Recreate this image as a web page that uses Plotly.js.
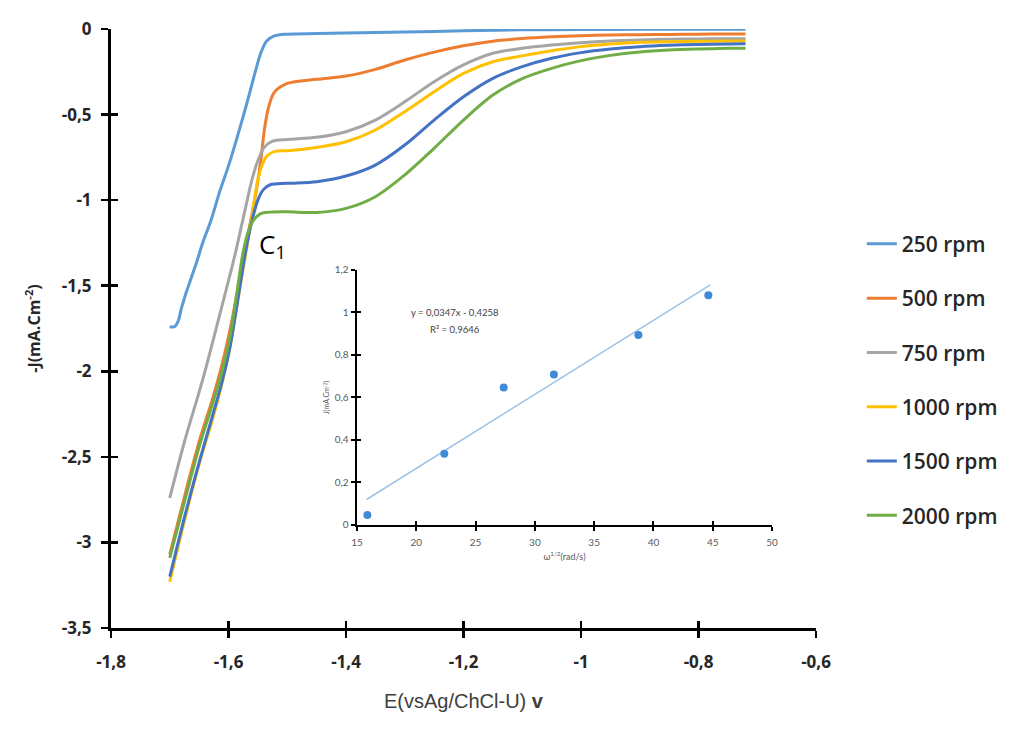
<!DOCTYPE html>
<html>
<head>
<meta charset="utf-8">
<script src="https://cdn.plot.ly/plotly-3.0.1.min.js"></script>
<style>html,body{margin:0;padding:0;background:#fff;}#chart{width:1033px;height:729px;}</style>
</head>
<body>
<div id="chart"></div>
<script>
// ---- main voltammograms: E (V) vs -J (mA.cm-2) ----
const seriesNames = ["250 rpm", "500 rpm", "750 rpm", "1000 rpm", "1500 rpm", "2000 rpm"];
const seriesColors = ["#5B9BD5", "#ED7D31", "#A5A5A5", "#FFC000", "#4472C4", "#70AD47"];

const e250 = [-1.700,-1.692,-1.686,-1.680,-1.672,-1.665,-1.655,-1.643,-1.630,-1.615,-1.600,-1.585,-1.570,-1.556,-1.545,-1.535,-1.522,-1.500,-1.450,-1.400,-1.350,-1.300,-1.250,-1.200,-1.100,-1.000,-0.900,-0.800,-0.720];
const j250 = [-1.74,-1.74,-1.71,-1.63,-1.54,-1.47,-1.37,-1.24,-1.12,-0.95,-0.80,-0.63,-0.45,-0.27,-0.14,-0.07,-0.04,-0.030,-0.027,-0.024,-0.021,-0.018,-0.014,-0.010,-0.005,-0.003,-0.002,-0.001,-0.001];

const e500 = [-1.700,-1.674,-1.649,-1.628,-1.611,-1.594,-1.577,-1.564,-1.554,-1.545,-1.539,-1.532,-1.522,-1.500,-1.450,-1.400,-1.350,-1.300,-1.250,-1.200,-1.150,-1.100,-1.050,-1.000,-0.950,-0.900,-0.850,-0.800,-0.750,-0.720];
const j500 = [-3.07,-2.72,-2.40,-2.17,-1.96,-1.70,-1.38,-1.15,-0.97,-0.77,-0.59,-0.46,-0.37,-0.318,-0.294,-0.275,-0.236,-0.181,-0.135,-0.098,-0.071,-0.056,-0.046,-0.039,-0.035,-0.033,-0.032,-0.030,-0.029,-0.029];

const e750 = [-1.700,-1.674,-1.644,-1.615,-1.589,-1.572,-1.560,-1.550,-1.539,-1.525,-1.500,-1.450,-1.400,-1.350,-1.300,-1.250,-1.200,-1.150,-1.100,-1.050,-1.000,-0.950,-0.900,-0.850,-0.800,-0.750,-0.720];
const j750 = [-2.74,-2.40,-2.05,-1.67,-1.32,-1.06,-0.88,-0.77,-0.69,-0.655,-0.645,-0.633,-0.600,-0.532,-0.425,-0.308,-0.210,-0.142,-0.113,-0.094,-0.080,-0.070,-0.064,-0.060,-0.058,-0.057,-0.057];

const e1000 = [-1.700,-1.674,-1.649,-1.628,-1.611,-1.597,-1.584,-1.572,-1.560,-1.550,-1.541,-1.534,-1.521,-1.500,-1.450,-1.400,-1.350,-1.300,-1.250,-1.200,-1.150,-1.100,-1.050,-1.000,-0.950,-0.900,-0.850,-0.800,-0.750,-0.720];
const j1000 = [-3.23,-2.86,-2.53,-2.29,-2.07,-1.85,-1.58,-1.34,-1.09,-0.88,-0.78,-0.74,-0.715,-0.711,-0.692,-0.659,-0.590,-0.483,-0.366,-0.259,-0.191,-0.157,-0.127,-0.103,-0.088,-0.078,-0.074,-0.072,-0.070,-0.070];

const e1500 = [-1.700,-1.674,-1.649,-1.628,-1.611,-1.597,-1.584,-1.572,-1.560,-1.550,-1.541,-1.529,-1.500,-1.450,-1.400,-1.350,-1.300,-1.250,-1.200,-1.150,-1.100,-1.050,-1.000,-0.950,-0.900,-0.850,-0.800,-0.750,-0.720];
const j1500 = [-3.20,-2.84,-2.52,-2.27,-2.06,-1.85,-1.58,-1.32,-1.12,-1.00,-0.94,-0.91,-0.902,-0.892,-0.859,-0.795,-0.678,-0.532,-0.396,-0.288,-0.220,-0.171,-0.138,-0.117,-0.103,-0.095,-0.090,-0.088,-0.086];

const e2000 = [-1.700,-1.674,-1.649,-1.628,-1.611,-1.597,-1.586,-1.576,-1.567,-1.558,-1.546,-1.529,-1.500,-1.450,-1.400,-1.350,-1.300,-1.250,-1.200,-1.150,-1.100,-1.050,-1.000,-0.950,-0.900,-0.850,-0.800,-0.750,-0.720];
const j2000 = [-3.09,-2.75,-2.43,-2.20,-2.00,-1.79,-1.55,-1.32,-1.19,-1.12,-1.08,-1.07,-1.068,-1.072,-1.048,-0.980,-0.853,-0.697,-0.532,-0.386,-0.290,-0.230,-0.185,-0.154,-0.134,-0.123,-0.117,-0.113,-0.113];

const seriesE = [e250, e500, e750, e1000, e1500, e2000];
const seriesJ = [j250, j500, j750, j1000, j1500, j2000];

// ---- inset: Levich plot ----
const insetX = [15.87, 22.36, 27.37, 31.6, 38.73, 44.63];
const insetY = [0.047, 0.335, 0.647, 0.708, 0.894, 1.081];
const trendX = [15.8, 44.8];
const trendY = [0.12, 1.13];
const eqText = "y = 0,0347x - 0,4258";
const r2Text = "R² = 0,9646";

// ---- tick labels ----
const mainXTicks = [-1.8, -1.6, -1.4, -1.2, -1.0, -0.8, -0.6];
const mainXLabels = ["-1,8", "-1,6", "-1,4", "-1,2", "-1", "-0,8", "-0,6"];
const mainYTicks = [0, -0.5, -1, -1.5, -2, -2.5, -3, -3.5];
const mainYLabels = ["0", "-0,5", "-1", "-1,5", "-2", "-2,5", "-3", "-3,5"];

const bold = s => "<b>" + s + "</b>";

const traces = [];
seriesNames.forEach((name, i) => {
  traces.push({
    type: "scatter", mode: "lines", name: name,
    x: seriesE[i], y: seriesJ[i],
    line: {color: seriesColors[i], width: 3, shape: "spline", smoothing: 0.9},
    legendgroup: "g" + i, xaxis: "x", yaxis: "y", hoverinfo: "skip"
  });
});
// empty helper trace so overlay axes (crossing tick marks) are drawn
traces.push({type: "scatter", x: [], y: [], xaxis: "x2", yaxis: "y2", showlegend: false, hoverinfo: "skip"});
traces.push({type: "scatter", mode: "lines", x: trendX, y: trendY, xaxis: "x3", yaxis: "y3",
  line: {color: "#9DC3E6", width: 1.6}, showlegend: false, hoverinfo: "skip"});
traces.push({type: "scatter", mode: "markers", x: insetX, y: insetY, xaxis: "x3", yaxis: "y3",
  marker: {color: "#3D8BD8", size: 8}, showlegend: false, hoverinfo: "skip"});
traces.push({type: "scatter", x: [], y: [], xaxis: "x4", yaxis: "y4", showlegend: false, hoverinfo: "skip"});

const yTickFont = {family: "'Open Sans', Lato, sans-serif", size: 17, color: "#262626", weight: 700};
const xTickFont = {family: "'Liberation Sans Narrow', 'Open Sans', sans-serif", size: 17, color: "#262626", weight: 700};
const insetTickFont = {family: "Lato, 'Open Sans', sans-serif", size: 10, color: "#595959"};

const layout = {
  width: 1033, height: 729,
  margin: {l: 111, r: 217, t: 29, b: 101},
  paper_bgcolor: "#ffffff", plot_bgcolor: "rgba(0,0,0,0)",
  separators: ", ",
  showlegend: true,
  font: {family: "Lato, 'Open Sans', sans-serif", color: "#404040"},
  xaxis: {
    range: [-1.8, -0.6], tickvals: mainXTicks, ticktext: mainXLabels.map(bold),
    showgrid: false, zeroline: false, showline: true, linecolor: "#000", linewidth: 3,
    ticks: "outside", ticklen: 7, tickwidth: 2.5, tickcolor: "#000",
    ticklabelstandoff: 10,
    tickfont: xTickFont, anchor: "y", side: "bottom", fixedrange: true,
    title: {text: "E(vsAg/ChCl-U) <b>v</b>", font: {family: "'Liberation Sans', Arial, sans-serif", size: 20, color: "#404040"}, standoff: 22}
  },
  yaxis: {
    range: [-3.5, 0], tickvals: mainYTicks, ticktext: mainYLabels.map(bold),
    showgrid: false, zeroline: false, showline: true, linecolor: "#000", linewidth: 3,
    ticks: "outside", ticklen: 7, tickwidth: 2.5, tickcolor: "#000",
    ticklabelstandoff: 6, automargin: true,
    tickfont: yTickFont, anchor: "x", fixedrange: true,
    title: {text: "<b>-J(mA.Cm<sup>-2</sup>)</b>", font: {family: "'Open Sans', Lato, sans-serif", size: 16, color: "#262626", weight: 700}, standoff: 18}
  },
  xaxis2: {
    overlaying: "x", anchor: "y", range: [-1.8, -0.6], tickvals: mainXTicks,
    showgrid: false, zeroline: false, showline: false, showticklabels: false,
    ticks: "inside", ticklen: 7, tickwidth: 2.5, tickcolor: "#000", fixedrange: true
  },
  yaxis2: {
    overlaying: "y", anchor: "x", range: [-3.5, 0], tickvals: mainYTicks,
    showgrid: false, zeroline: false, showline: false, showticklabels: false,
    ticks: "inside", ticklen: 7, tickwidth: 2.5, tickcolor: "#000", fixedrange: true
  },
  xaxis3: {
    domain: [0.349, 0.9376], anchor: "y3", range: [15, 50], dtick: 5, tick0: 15,
    showgrid: false, zeroline: false, showline: true, linecolor: "#000", linewidth: 2.5,
    ticks: "outside", ticklen: 4, tickwidth: 2, tickcolor: "#000",
    tickfont: insetTickFont, fixedrange: true, ticklabelstandoff: 3,
    title: {text: "ω<sup>1/2</sup>(rad/s)", font: {size: 9, color: "#595959"}, standoff: 6}
  },
  yaxis3: {
    domain: [0.172, 0.5977], anchor: "x3", range: [0, 1.2], dtick: 0.2, tick0: 0,
    showgrid: false, zeroline: false, showline: true, linecolor: "#000", linewidth: 2.5,
    ticks: "outside", ticklen: 4, tickwidth: 2, tickcolor: "#000",
    tickfont: insetTickFont, fixedrange: true,
    title: {text: "J(mA.Cm<sup>-2</sup>)", font: {size: 7, color: "#595959"}, standoff: 4}
  },
  xaxis4: {
    overlaying: "x3", anchor: "y3", range: [15, 50], dtick: 5, tick0: 15,
    showgrid: false, zeroline: false, showline: false, showticklabels: false,
    ticks: "inside", ticklen: 4, tickwidth: 2, tickcolor: "#000", fixedrange: true
  },
  yaxis4: {
    overlaying: "y3", anchor: "x3", range: [0, 1.2], dtick: 0.2, tick0: 0,
    showgrid: false, zeroline: false, showline: false, showticklabels: false,
    ticks: "inside", ticklen: 4, tickwidth: 2, tickcolor: "#000", fixedrange: true
  },
  legend: {
    x: 1.065, y: 0.675, xanchor: "left", yanchor: "top",
    font: {family: "'Open Sans', Lato, sans-serif", size: 21, color: "#262626", weight: 600},
    tracegroupgap: 24, bgcolor: "rgba(0,0,0,0)", borderwidth: 0
  },
  annotations: [
    {xref: "x", yref: "y", x: -1.5515, y: -1.262, xanchor: "left", yanchor: "middle",
     text: "C<sub>1</sub>", showarrow: false,
     font: {family: "'Open Sans', Lato, sans-serif", size: 26, color: "#000"}},
    {xref: "x3", yref: "y3", x: 23.3, y: 1.0, text: eqText, showarrow: false,
     font: {size: 9.5, color: "#404040"}},
    {xref: "x3", yref: "y3", x: 23.3, y: 0.92, text: r2Text, showarrow: false,
     font: {size: 9.5, color: "#404040"}}
  ]
};

Plotly.newPlot("chart", traces, layout, {staticPlot: true, displayModeBar: false});
</script>
</body>
</html>
